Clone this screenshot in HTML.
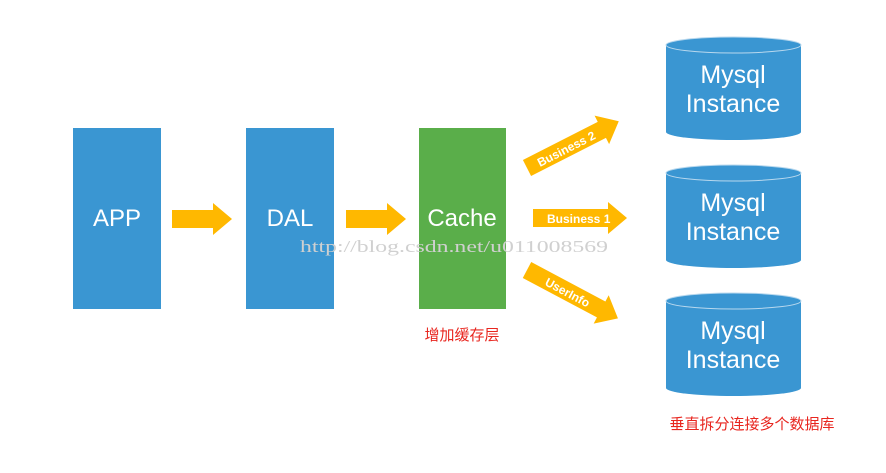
<!DOCTYPE html>
<html><head><meta charset="utf-8"><style>
body{margin:0;background:#fff;}
svg{display:block;}
text{font-family:"Liberation Sans","Noto Sans CJK SC",sans-serif;}
text.wm{font-family:"Liberation Serif",serif;}
</style></head><body>
<svg width="886" height="473" viewBox="0 0 886 473" xmlns="http://www.w3.org/2000/svg">
<defs>
<g id="cyl">
<path d="M666,45 L666,132 A67.5,8 0 0 0 801,132 L801,45 Z" fill="#3a96d2"/>
<ellipse cx="733.5" cy="45" rx="67.5" ry="8" fill="#3a96d2" stroke="#b8d8ee" stroke-width="1"/>
</g>
<path id="arr" d="M0,-9 L41,-9 L41,-16 L60,0 L41,16 L41,9 L0,9 Z" fill="#ffb800"/>
</defs>
<rect x="73" y="128" width="88" height="181" fill="#3a96d2"/>
<rect x="246" y="128" width="88" height="181" fill="#3a96d2"/>
<rect x="419" y="128" width="87" height="181" fill="#5aae4a"/>
<text x="117" y="226" font-size="24" fill="#fff" text-anchor="middle">APP</text>
<text x="290" y="226" font-size="24" fill="#fff" text-anchor="middle">DAL</text>
<text x="462" y="226" font-size="24" fill="#fff" text-anchor="middle">Cache</text>
<use href="#arr" transform="translate(172,219)"/>
<use href="#arr" transform="translate(346,219)"/>
<g transform="translate(533,218)"><path d="M0,-9 L75,-9 L75,-16 L94,0 L75,16 L75,9 L0,9 Z" fill="#ffb800"/>
<text x="14" y="5" font-size="12" font-weight="bold" fill="#fff">Business 1</text></g>
<g transform="translate(527,168) rotate(-27)"><path d="M0,-9 L84,-9 L84,-16 L103,0 L84,16 L84,9 L0,9 Z" fill="#ffb800"/>
<text x="12" y="5" font-size="12" font-weight="bold" fill="#fff">Business 2</text></g>
<g transform="translate(527,270) rotate(28)"><path d="M0,-9 L84,-9 L84,-16 L103,0 L84,16 L84,9 L0,9 Z" fill="#ffb800"/>
<text x="22" y="5" font-size="12" font-weight="bold" fill="#fff">UserInfo</text></g>
<use href="#cyl"/>
<use href="#cyl" transform="translate(0,128)"/>
<use href="#cyl" transform="translate(0,256)"/>
<g font-size="25" fill="#fff" text-anchor="middle">
<text x="733" y="83">Mysql</text><text x="733" y="112">Instance</text>
<text x="733" y="211">Mysql</text><text x="733" y="240">Instance</text>
<text x="733" y="339">Mysql</text><text x="733" y="368">Instance</text>
</g>
<text class="wm" x="300" y="252" font-size="17" fill="#d0d0d0" textLength="308" lengthAdjust="spacingAndGlyphs">http://blog.csdn.net/u011008569</text>
<text x="462" y="340" font-size="15" fill="#e8261f" text-anchor="middle">增加缓存层</text>
<text x="752" y="429" font-size="15" fill="#e8261f" text-anchor="middle">垂直拆分连接多个数据库</text>
</svg>
</body></html>
